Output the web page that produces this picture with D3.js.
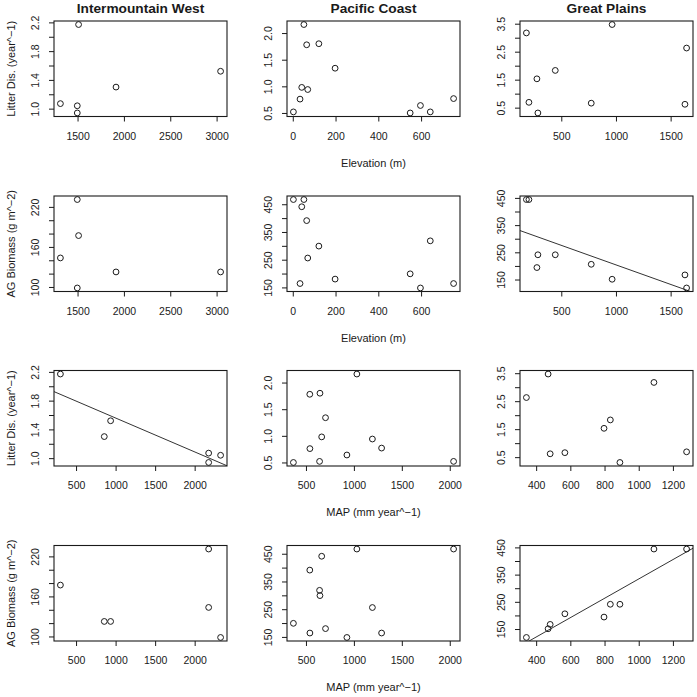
<!DOCTYPE html>
<html>
<head>
<meta charset="utf-8">
<script src="https://cdn.jsdelivr.net/npm/d3@7"></script>
<style>
  html, body { margin: 0; padding: 0; background: #fff; }
  svg { display: block; font-family: "Liberation Sans", Arial, sans-serif; }
</style>
</head>
<body>
<svg id="chart" width="697" height="697"></svg>
<script>
// ---------- data ----------
const regions = ["Intermountain West", "Pacific Coast", "Great Plains"];

// Intermountain West sites
const iwElevation = [1511, 1915, 3043, 1315, 1497, 1497];
const iwMAP       = [302, 857, 937, 2177, 2177, 2328];
const iwLitter    = [2.17, 1.30, 1.52, 1.07, 0.94, 1.04];
const iwBiomass   = [177, 122.5, 122.5, 143.5, 231, 98.5];

// Pacific Coast sites
const pcElevation = [3, 52, 65, 122, 198, 42, 70, 34, 549, 597, 643, 752];
const pcMAP       = [2040, 1031, 540, 646, 704, 664, 1193, 541, 369, 927, 642, 1289];
const pcLitter    = [0.52, 2.16, 1.78, 1.80, 1.34, 0.98, 0.94, 0.76, 0.50, 0.64, 0.52, 0.77];
const pcBiomass   = [467, 467, 391, 299, 180, 441, 256, 164, 199, 148, 318, 164];

// Great Plains sites
const gpElevation = [181, 965, 1646, 277, 445, 204, 286, 774, 1631];
const gpMAP       = [1089, 470, 343, 797, 834, 1280, 890, 568, 482];
const gpLitter    = [3.17, 3.47, 2.63, 1.53, 1.83, 0.69, 0.31, 0.66, 0.62];
const gpBiomass   = [444, 151, 119, 194, 241, 444, 241, 206, 167];

// tick values and labelled ticks
const iwElevTicks = [1500, 2000, 2500, 3000];
const pcElevTicks = [0, 200, 400, 600];
const gpElevTicks = [500, 1000, 1500];
const iwMapTicks = [500, 1000, 1500, 2000];
const pcMapTicks = [500, 1000, 1500, 2000];
const gpMapTicks = [400, 600, 800, 1000, 1200];
const iwLitterTicks = [1.0, 1.2, 1.4, 1.6, 1.8, 2.0, 2.2];
const iwLitterLabels = [1.0, 1.4, 1.8, 2.2];
const pcLitterTicks = [0.5, 1.0, 1.5, 2.0];
const pcLitterLabels = [0.5, 1.0, 1.5, 2.0];
const gpLitterTicks = [0.5, 1.0, 1.5, 2.0, 2.5, 3.0, 3.5];
const gpLitterLabels = [0.5, 1.5, 2.5, 3.5];
const iwBiomassTicks = [100, 120, 140, 160, 180, 200, 220];
const iwBiomassLabels = [100, 160, 220];
const pcBiomassTicks = [150, 200, 250, 300, 350, 400, 450];
const pcBiomassLabels = [150, 250, 350, 450];
const gpBiomassTicks = [150, 200, 250, 300, 350, 400, 450];
const gpBiomassLabels = [150, 250, 350, 450];

const rowYTitles = ["Litter Dis. (year^\u22121)", "AG Biomass (g m^\u22122)", "Litter Dis. (year^\u22121)", "AG Biomass (g m^\u22122)"];
const rowXTitles = ["Elevation (m)", "Elevation (m)", "MAP (mm year^\u22121)", "MAP (mm year^\u22121)"];
// which panels show a fitted regression line [row][col]
const fitted = [[false, false, false], [false, false, true], [true, false, false], [false, false, true]];

// ---------- layout ----------
const colLeft = [54, 287, 520];
const panelW = 173;
const rowTop = [21, 196, 370.5, 545.5];
const panelH = 95.5;
const ink = "#1a1a1a";

const svg = d3.select("#chart");
svg.append("rect").attr("width", 697).attr("height", 697).attr("fill", "#fff");

// panel definitions assembled from the arrays above
const panels = [
  // row 0: litter vs elevation
  [
    [iwElevation, iwLitter, iwElevTicks, iwLitterTicks, iwLitterLabels, 1],
    [pcElevation, pcLitter, pcElevTicks, pcLitterTicks, pcLitterLabels, 1],
    [gpElevation, gpLitter, gpElevTicks, gpLitterTicks, gpLitterLabels, 1]
  ],
  // row 1: biomass vs elevation
  [
    [iwElevation, iwBiomass, iwElevTicks, iwBiomassTicks, iwBiomassLabels, 0],
    [pcElevation, pcBiomass, pcElevTicks, pcBiomassTicks, pcBiomassLabels, 0],
    [gpElevation, gpBiomass, gpElevTicks, gpBiomassTicks, gpBiomassLabels, 0]
  ],
  // row 2: litter vs MAP
  [
    [iwMAP, iwLitter, iwMapTicks, iwLitterTicks, iwLitterLabels, 1],
    [pcMAP, pcLitter, pcMapTicks, pcLitterTicks, pcLitterLabels, 1],
    [gpMAP, gpLitter, gpMapTicks, gpLitterTicks, gpLitterLabels, 1]
  ],
  // row 3: biomass vs MAP
  [
    [iwMAP, iwBiomass, iwMapTicks, iwBiomassTicks, iwBiomassLabels, 0],
    [pcMAP, pcBiomass, pcMapTicks, pcBiomassTicks, pcBiomassLabels, 0],
    [gpMAP, gpBiomass, gpMapTicks, gpBiomassTicks, gpBiomassLabels, 0]
  ]
];

function rDomain(vals) {
  const [lo, hi] = d3.extent(vals);
  const pad = (hi - lo) * 0.04;
  return [lo - pad, hi + pad];
}

function ols(xs, ys) {
  const mx = d3.mean(xs), my = d3.mean(ys);
  let sxy = 0, sxx = 0;
  xs.forEach((x, i) => { sxy += (x - mx) * (ys[i] - my); sxx += (x - mx) * (x - mx); });
  const b = sxy / sxx;
  return { a: my - b * mx, b };
}

panels.forEach((row, r) => {
  row.forEach((p, c) => {
    const [xs, ys, xTicks, yTicks, yLabels, decimals] = p;
    const left = colLeft[c], top = rowTop[r];
    const x = d3.scaleLinear().domain(rDomain(xs)).range([0, panelW]);
    const y = d3.scaleLinear().domain(rDomain(ys)).range([panelH, 0]);
    const g = svg.append("g").attr("transform", `translate(${left},${top})`);

    const clipId = `clip-${r}-${c}`;
    g.append("clipPath").attr("id", clipId)
      .append("rect").attr("width", panelW).attr("height", panelH);

    // x axis
    const xa = g.append("g").attr("transform", `translate(0,${panelH})`)
      .call(d3.axisBottom(x).tickValues(xTicks).tickSize(5).tickSizeOuter(0).tickFormat(d3.format("d")));
    xa.select(".domain").remove();
    xa.selectAll("line").attr("stroke", ink);
    xa.selectAll("text").attr("y", 23).attr("dy", 0)
      .attr("fill", ink).attr("font-size", 10.5)
      .attr("font-family", "Liberation Sans, Arial, sans-serif");

    // y axis
    const fmt = decimals ? d3.format(".1f") : d3.format("d");
    const ya = g.append("g")
      .call(d3.axisLeft(y).tickValues(yTicks).tickSize(5).tickSizeOuter(0)
        .tickFormat(d => yLabels.some(v => Math.abs(v - d) < 1e-9) ? fmt(d) : ""));
    ya.select(".domain").remove();
    ya.selectAll("line").attr("stroke", ink);
    ya.selectAll("text")
      .attr("transform", "rotate(-90)")
      .attr("x", 0).attr("y", -15).attr("dy", 0)
      .attr("text-anchor", "middle")
      .attr("fill", ink).attr("font-size", 10.5)
      .attr("font-family", "Liberation Sans, Arial, sans-serif");

    // regression line
    if (fitted[r][c]) {
      const { a, b } = ols(xs, ys);
      const [d0, d1] = x.domain();
      g.append("line")
        .attr("clip-path", `url(#${clipId})`)
        .attr("x1", x(d0)).attr("y1", y(a + b * d0))
        .attr("x2", x(d1)).attr("y2", y(a + b * d1))
        .attr("stroke", "#333").attr("stroke-width", 1);
    }

    // points
    g.selectAll("circle.pt").data(xs.map((v, i) => [v, ys[i]]))
      .join("circle").attr("class", "pt")
      .attr("cx", d => x(d[0])).attr("cy", d => y(d[1]))
      .attr("r", 2.9).attr("fill", "none").attr("stroke", ink).attr("stroke-width", 1);

    // box
    g.append("rect").attr("width", panelW).attr("height", panelH)
      .attr("fill", "none").attr("stroke", ink).attr("stroke-width", 1.1);

    // titles
    if (r === 0) {
      g.append("text").attr("x", panelW / 2).attr("y", -8)
        .attr("text-anchor", "middle").attr("font-weight", "bold")
        .attr("font-size", 13.7).attr("fill", ink).text(regions[c]);
    }
    if (c === 0) {
      g.append("text")
        .attr("transform", `translate(-39.5,${panelH / 2}) rotate(-90)`)
        .attr("text-anchor", "middle").attr("font-size", 11).attr("fill", ink)
        .text(rowYTitles[r]);
    }
    if (c === 1) {
      g.append("text").attr("x", panelW / 2).attr("y", panelH + 50)
        .attr("text-anchor", "middle").attr("font-size", 11).attr("fill", ink)
        .text(rowXTitles[r]);
    }
  });
});
</script>
</body>
</html>
